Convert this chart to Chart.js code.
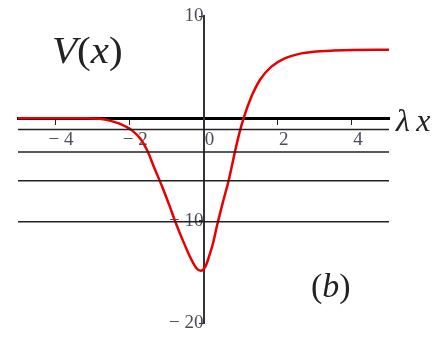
<!DOCTYPE html>
<html>
<head>
<meta charset="utf-8">
<script src="https://cdn.jsdelivr.net/npm/chart.js@4.4.1/dist/chart.umd.min.js"></script>
<style>
  body { margin: 0; background: #fff; }
  #wrap { position: relative; width: 448px; height: 341px; }
  .lbl { position: absolute; font-family: "Liberation Serif", serif; color: #222; white-space: nowrap; line-height: 1; }
</style>
</head>
<body>
<div id="wrap">
  <canvas id="pot"></canvas>
  <div class="lbl" style="left:52px; top:31px; font-size:38px; transform-origin:0 0; transform:scaleX(1.08);"><i>V</i>(<i>x</i>)</div>
  <div class="lbl" style="left:396px; top:104px; font-size:32px;"><i>λ</i>&thinsp;<i>x</i></div>
  <div class="lbl" style="left:311px; top:269px; font-size:34px;">(<i>b</i>)</div>
</div>
<script>
// potentiel V(x)
var potX = [-5, -4, -3.2, -2.8, -2.5, -2.28, -2.1, -1.92, -1.7, -1.51, -1.33, -1.1, -0.92, -0.76, -0.56, -0.38, -0.2, -0.08, 0.05, 0.15, 0.25, 0.37, 0.53, 0.69, 0.84, 0.97, 1.08, 1.29, 1.52, 1.83, 2.19, 2.64, 2.96, 3.5, 4, 5];
var potV = [0, 0, 0, -0.05, -0.25, -0.5, -0.8, -1.2, -2.0, -3.2, -4.8, -6.8, -8.5, -10.1, -11.9, -13.4, -14.6, -14.9, -14.5, -13.5, -12.3, -10.4, -8.1, -5.9, -3.4, -1.4, 0, 2.1, 3.75, 5.05, 5.86, 6.35, 6.5, 6.62, 6.68, 6.7];
// niveaux d'energie
var levelE = [-1.1, -3.3, -6.1, -10.1];
var xTicks = [-4, -2, 0, 2, 4];
var yTicks = [-20, -10, 10];

var datasets = [];
levelE.forEach(function(e) {
  datasets.push({
    data: [{x: -5, y: e}, {x: 5, y: e}],
    borderColor: '#222',
    borderWidth: 1.5,
    pointRadius: 0
  });
});
datasets.push({
  data: potX.map(function(x, i) { return {x: x, y: potV[i]}; }),
  borderColor: '#e80000',
  borderWidth: 2.5,
  pointRadius: 0,
  cubicInterpolationMode: 'monotone'
});

function minus(v) {
  return v < 0 ? '\u2212 ' + Math.abs(v) : '' + v;
}

var ctx = document.getElementById('pot').getContext('2d');
var chart = new Chart(ctx, {
  type: 'line',
  data: { datasets: datasets },
  options: {
    responsive: true,
    maintainAspectRatio: false,
    animation: false,
    layout: { padding: { left: 18, right: 59, top: 16, bottom: 18 } },
    plugins: { legend: { display: false }, tooltip: { enabled: false } },
    scales: {
      x: {
        type: 'linear',
        min: -5, max: 5,
        position: { y: 0 },
        afterBuildTicks: function(s) { s.ticks = xTicks.map(function(v) { return {value: v}; }); },
        border: { color: '#000', width: 3 },
        grid: { drawOnChartArea: false, tickLength: 5, color: '#222' },
        ticks: {
          callback: function(v) { return minus(v); },
          font: { family: 'Liberation Serif', size: 19 },
          color: '#4a4d57',
          padding: 5,
          labelOffset: 6,
          maxRotation: 0
        }
      },
      y: {
        type: 'linear',
        min: -20, max: 10,
        position: { x: 0 },
        afterBuildTicks: function(s) { s.ticks = yTicks.map(function(v) { return {value: v}; }); },
        border: { color: '#333', width: 2 },
        grid: { drawOnChartArea: false, tickLength: 4, color: '#222' },
        ticks: {
          callback: function(v) { return minus(v); },
          font: { family: 'Liberation Serif', size: 19 },
          color: '#4a4d57',
          padding: 1
        }
      }
    }
  }
});
</script>
</body>
</html>
